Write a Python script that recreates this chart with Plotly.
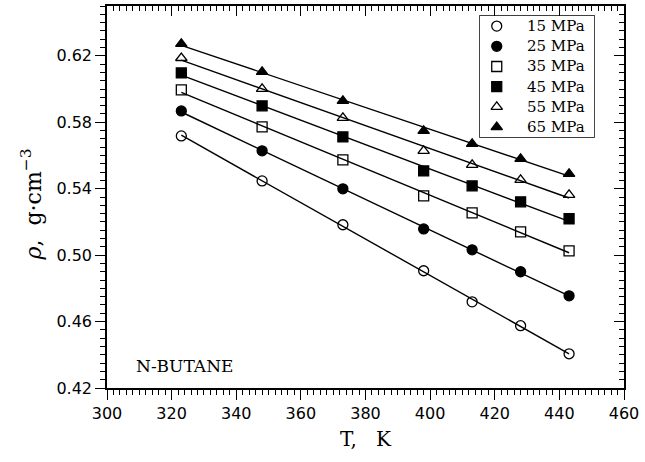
import numpy as np
import plotly.graph_objects as go

# Density of n-butane (g/cm^3) along isobars
temperature_K = [323, 348, 373, 398, 413, 428, 443]
pressure_labels = ["15 MPa", "25 MPa", "35 MPa", "45 MPa", "55 MPa", "65 MPa"]
rho_15 = [0.5718, 0.5447, 0.5183, 0.4906, 0.4719, 0.4575, 0.4406]
rho_25 = [0.5868, 0.5628, 0.5399, 0.5158, 0.5032, 0.4900, 0.4755]
rho_35 = [0.5995, 0.5772, 0.5574, 0.5357, 0.5255, 0.5140, 0.5026]
rho_45 = [0.6097, 0.5899, 0.5712, 0.5507, 0.5417, 0.5321, 0.5219]
rho_55 = [0.6187, 0.6001, 0.5826, 0.5628, 0.5544, 0.5453, 0.5363]
rho_65 = [0.6272, 0.6103, 0.5929, 0.5748, 0.5670, 0.5580, 0.5489]

series = [rho_15, rho_25, rho_35, rho_45, rho_55, rho_65]
symbols = ["circle-open", "circle", "square-open", "square",
           "triangle-up-open", "triangle-up"]

# figure geometry (pixels)
W, H = 645, 462
M_L, M_R, M_T, M_B = 107, 18, 6, 74
PW, PH = W - M_L - M_R, H - M_T - M_B

# legend box (pixels from the figure's top-left corner)
LG_L, LG_R, LG_T, LG_B = 482, 597, 16, 137
LG_ROW = 20.2
LG_MARK_X, LG_TEXT_X = 17, 45

marker_style = dict(size=10, color="black", line=dict(color="black", width=1.3))

fig = go.Figure()

# straight-line fit through each isobar
T = np.array(temperature_K, dtype=float)
for rho in series:
    slope, icpt = np.polyfit(T, np.array(rho), 1)
    t_ends = np.array([T.min(), T.max()])
    fig.add_trace(go.Scatter(
        x=t_ends, y=slope * t_ends + icpt, mode="lines",
        line=dict(color="black", width=1.4), showlegend=False, hoverinfo="skip"))

# measured points
for rho, sym, name in zip(series, symbols, pressure_labels):
    fig.add_trace(go.Scatter(
        x=temperature_K, y=rho, mode="markers", name=name, showlegend=False,
        marker=dict(symbol=sym, **marker_style)))

# empty trace that carries the mirrored frame axes
fig.add_trace(go.Scatter(x=[], y=[], xaxis="x2", yaxis="y2", showlegend=False))

# legend drawn on its own pixel-scaled axes inside the box
rows = list(range(len(pressure_labels)))
row_y = [LG_ROW / 2 + r * LG_ROW for r in rows]
fig.add_trace(go.Scatter(
    x=[LG_MARK_X] * len(rows), y=row_y, mode="markers", xaxis="x3", yaxis="y3",
    showlegend=False, hoverinfo="skip",
    marker=dict(symbol=symbols, **marker_style)))

legend_text = [dict(text=lab, xref="x3", yref="y3", x=LG_TEXT_X, y=yy,
                    xanchor="left", yanchor="middle", showarrow=False,
                    font=dict(family="DejaVu Serif", size=15, color="black"))
               for lab, yy in zip(pressure_labels, row_y)]

tick_font = dict(family="DejaVu Sans", size=16, color="black")
x_range = [300, 460]
y_range = [0.42, 0.65]

common_x = dict(range=x_range, dtick=20, showline=True, linecolor="black",
                linewidth=1.5, showgrid=False, zeroline=False)
common_y = dict(range=y_range, tick0=0.42, dtick=0.04, showline=True,
                linecolor="black", linewidth=1.5, showgrid=False, zeroline=False)

fig.update_layout(
    width=W, height=H,
    margin=dict(l=M_L, r=M_R, t=M_T, b=M_B),
    paper_bgcolor="white", plot_bgcolor="white",
    showlegend=False,
    xaxis=dict(**common_x, ticks="outside", ticklen=10, tickwidth=1.3,
               tickcolor="black", tickfont=tick_font,
               minor=dict(dtick=2, ticks="outside", ticklen=5, tickwidth=1,
                          tickcolor="black"),
               title=dict(text="T,   K", standoff=10,
                          font=dict(family="DejaVu Serif", size=20, color="black"))),
    yaxis=dict(**common_y, ticks="outside", ticklen=10, tickwidth=1.3,
               tickcolor="black", tickfont=tick_font, tickformat=".2f",
               minor=dict(dtick=0.005, ticks="outside", ticklen=5, tickwidth=1,
                          tickcolor="black")),
    xaxis2=dict(**common_x, overlaying="x", side="top", ticks="inside",
                ticklen=10, tickwidth=1.3, tickcolor="black", showticklabels=False,
                minor=dict(dtick=2, ticks="inside", ticklen=5, tickwidth=1,
                           tickcolor="black")),
    yaxis2=dict(**common_y, overlaying="y", side="right", ticks="inside",
                ticklen=10, tickwidth=1.3, tickcolor="black", showticklabels=False,
                minor=dict(dtick=0.005, ticks="inside", ticklen=5, tickwidth=1,
                           tickcolor="black")),
    xaxis3=dict(domain=[(LG_L - M_L) / PW, (LG_R - M_L) / PW],
                range=[0, LG_R - LG_L], visible=False, anchor="y3"),
    yaxis3=dict(domain=[(H - M_B - LG_B) / PH, (H - M_B - LG_T) / PH],
                range=[LG_B - LG_T, 0], visible=False, anchor="x3"),
    shapes=[dict(type="rect", xref="paper", yref="paper",
                 x0=(LG_L - M_L) / PW, x1=(LG_R - M_L) / PW,
                 y0=(H - M_B - LG_B) / PH, y1=(H - M_B - LG_T) / PH,
                 line=dict(color="black", width=1.4), fillcolor="white",
                 layer="below")],
    annotations=legend_text + [
        dict(text="N-BUTANE", xref="paper", yref="paper",
             x=(134 - M_L) / PW, y=(H - M_B - 366) / PH,
             xanchor="left", yanchor="middle", showarrow=False,
             font=dict(family="DejaVu Serif", size=17, color="black")),
        # rotated y-axis title
        dict(text="<i>ρ</i>,  g·cm<sup>−3</sup>", xref="paper", yref="paper",
             x=(31 - M_L) / PW, y=(H - M_B - 204) / PH,
             xanchor="center", yanchor="middle", textangle=-90, showarrow=False,
             font=dict(family="DejaVu Serif", size=22, color="black"))],
)

fig.write_html("out.html")
